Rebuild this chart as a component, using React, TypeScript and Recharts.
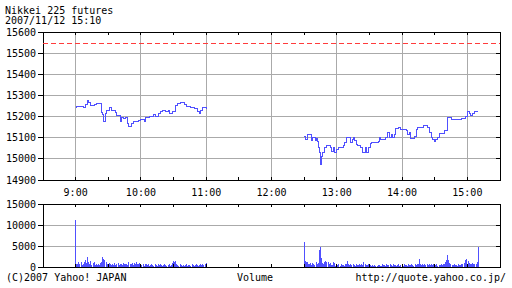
import React from 'react';
import {
  LineChart,
  Line,
  XAxis,
  YAxis,
  CartesianGrid,
  ReferenceLine,
  ReferenceArea,
  BarChart,
  Bar,
} from 'recharts';

const FONT = '"DejaVu Sans Mono", "Liberation Mono", monospace';
const BLUE = '#5050ff';
const GRID = '#aaaaaa';
const RED = '#ff3c3c';

// time axis: minutes of the day
const hourTicks = [540, 600, 660, 720, 780, 840, 900];
const hourLabels = ['9:00', '10:00', '11:00', '12:00', '13:00', '14:00', '15:00'];
const halfHourTicks = [540, 570, 600, 630, 660, 690, 720, 750, 780, 810, 840, 870, 900];
const priceTicks = [14900, 15000, 15100, 15200, 15300, 15400, 15500, 15600];
const volumeTicks = [0, 5000, 10000, 15000];
const prevClose = 15545;

const amOpen = 540; // 9:00
const pmOpen = 750; // 12:30

// morning session step points (minutes after 9:00, price)
const amMinutes = [0, 1, 7, 9, 11, 12, 14, 17, 19, 24, 25, 26, 27, 28, 30, 31, 33, 34, 37, 38, 40, 41, 42, 44, 46, 48, 49, 51, 53, 55, 58, 60, 63, 64, 68, 72, 73, 76, 78, 80, 83, 85, 86, 89, 92, 94, 96, 100, 102, 103, 106, 109, 112, 114, 115, 117, 120];
const amPrices = [15243, 15250, 15243, 15257, 15278, 15265, 15252, 15258, 15262, 15220, 15210, 15179, 15215, 15231, 15227, 15241, 15229, 15231, 15220, 15204, 15207, 15179, 15194, 15191, 15194, 15167, 15155, 15167, 15175, 15179, 15183, 15186, 15179, 15194, 15199, 15210, 15199, 15215, 15226, 15231, 15224, 15231, 15215, 15224, 15254, 15262, 15267, 15257, 15246, 15250, 15241, 15239, 15224, 15215, 15231, 15241, 15238];

// afternoon session step points (minutes after 12:30, price)
const pmMinutes = [0, 1, 3, 7, 8, 10, 11, 12, 13, 14, 15, 16, 17, 19, 21, 24, 25, 27, 28, 30, 32, 36, 37, 39, 43, 44, 45, 46, 48, 49, 52, 54, 56, 57, 59, 61, 62, 68, 69, 70, 75, 77, 78, 80, 81, 83, 84, 87, 89, 94, 95, 97, 98, 101, 103, 104, 110, 113, 115, 117, 118, 120, 121, 123, 124, 129, 130, 132, 135, 141, 145, 148, 150, 152, 153, 155, 157, 160];
const pmPrices = [15105, 15090, 15113, 15085, 15100, 15087, 15097, 15081, 15053, 15029, 14974, 15013, 15029, 15053, 15061, 15053, 15037, 15053, 15029, 15045, 15053, 15061, 15076, 15100, 15076, 15092, 15100, 15087, 15068, 15061, 15056, 15029, 15053, 15029, 15053, 15072, 15076, 15084, 15100, 15092, 15100, 15124, 15100, 15113, 15100, 15113, 15144, 15150, 15139, 15132, 15113, 15124, 15097, 15108, 15139, 15147, 15160, 15147, 15124, 15100, 15092, 15084, 15092, 15103, 15119, 15135, 15132, 15195, 15184, 15187, 15192, 15199, 15223, 15213, 15203, 15213, 15223, 15223];

// per-minute volume, morning from 9:00, afternoon from 12:30
const amVolume = [11200, 700, 600, 1100, 600, 1200, 500, 700, 1100, 1700, 900, 2500, 1300, 700, 1500, 500, 900, 1100, 500, 800, 400, 700, 400, 900, 1200, 2300, 2000, 1700, 1200, 700, 500, 900, 700, 400, 700, 500, 900, 400, 700, 1000, 500, 800, 700, 500, 900, 600, 700, 800, 500, 1300, 800, 600, 1000, 500, 900, 700, 1100, 800, 600, 1000, 300, 400, 600, 300, 800, 700, 400, 600, 300, 500, 700, 400, 300, 600, 500, 300, 700, 400, 600, 500, 300, 400, 700, 500, 300, 400, 600, 300, 500, 900, 1500, 1100, 1400, 700, 400, 300, 600, 400, 300, 500, 300, 400, 600, 300, 500, 400, 300, 600, 400, 300, 500, 600, 400, 300, 500, 700, 400, 600, 500, 700, 1000];
const pmVolume = [6000, 1500, 1200, 1300, 700, 700, 900, 500, 900, 700, 500, 1200, 700, 900, 4000, 4800, 2100, 900, 700, 1200, 1500, 1300, 1100, 700, 900, 500, 400, 1100, 900, 300, 500, 400, 600, 300, 700, 400, 500, 300, 600, 800, 1500, 700, 500, 600, 400, 700, 500, 300, 600, 400, 500, 700, 400, 600, 500, 1200, 600, 400, 500, 700, 300, 400, 200, 500, 300, 400, 200, 300, 500, 400, 300, 200, 600, 400, 500, 300, 700, 500, 400, 800, 500, 300, 600, 400, 500, 300, 400, 600, 300, 500, 400, 300, 700, 400, 500, 300, 600, 400, 500, 700, 400, 300, 600, 500, 700, 800, 2000, 700, 500, 600, 400, 700, 500, 600, 400, 800, 500, 600, 400, 700, 500, 400, 600, 300, 500, 400, 700, 500, 600, 800, 1200, 1600, 2900, 1700, 900, 600, 400, 500, 700, 400, 500, 300, 600, 400, 500, 700, 600, 1000, 1700, 2000, 800, 1500, 900, 600, 700, 1000, 600, 800, 700, 1300, 4800];

const priceData: { t: number; p: number | null }[] = [
  ...amMinutes.map((m, i) => ({ t: amOpen + m, p: amPrices[i] })),
  { t: 705, p: null },
  ...pmMinutes.map((m, i) => ({ t: pmOpen + m, p: pmPrices[i] })),
];

const volumeData = [
  ...amVolume.map((v, i) => ({ t: amOpen + i, v })),
  ...pmVolume.map((v, i) => ({ t: pmOpen + i, v })),
];

const tickStyle = { fontSize: 10, fontFamily: FONT, fill: '#000' };
const X_DOMAIN: [number, number] = [510, 930];

const fmtHour = (t: number) => hourLabels[hourTicks.indexOf(t)] ?? '';

const RedDash = (props: any) => (
  <line
    x1={props.x1}
    y1={props.y1}
    x2={props.x2}
    y2={props.y2}
    stroke={RED}
    strokeWidth={1}
    strokeDasharray="5 3"
    fill="none"
  />
);

export default function App() {
  return (
    <div
      style={{
        position: 'absolute',
        left: 0,
        top: 0,
        width: 512,
        height: 288,
        background: '#fff',
        overflow: 'hidden',
      }}
    >
      <style>{`.crisp svg { shape-rendering: crispEdges; }`}</style>
      <div className="crisp" style={{ position: 'absolute', left: 0, top: 0 }}>
        <LineChart
          width={512}
          height={202}
          data={priceData}
          margin={{ top: 32, right: 12, bottom: 2, left: 0 }}
        >
          <CartesianGrid stroke={GRID} strokeWidth={1} />
          <XAxis
            dataKey="t"
            type="number"
            domain={X_DOMAIN}
            ticks={hourTicks}
            tickFormatter={fmtHour}
            height={20}
            axisLine={false}
            tickLine={false}
            tickMargin={3}
            tick={tickStyle}
            allowDataOverflow
          />
          <YAxis
            type="number"
            domain={[14900, 15600]}
            ticks={priceTicks}
            width={43}
            axisLine={false}
            tickLine={{ stroke: '#000' }}
            tickSize={5}
            tickMargin={2}
            tick={tickStyle}
            interval={0}
            allowDataOverflow
          />
          <ReferenceLine y={prevClose} stroke={RED} shape={RedDash} />
          {halfHourTicks.map((t) => (
            <ReferenceLine
              key={'pt' + t}
              segment={[{ x: t, y: 15600 }, { x: t, y: 15586 }]}
              stroke="#000"
            />
          ))}
          {halfHourTicks.map((t) => (
            <ReferenceLine
              key={'pb' + t}
              segment={[{ x: t, y: 14900 }, { x: t, y: 14914 }]}
              stroke="#000"
            />
          ))}
          {priceTicks.map((v) => (
            <ReferenceLine
              key={'pr' + v}
              segment={[{ x: 926, y: v }, { x: 930, y: v }]}
              stroke="#000"
            />
          ))}
          <ReferenceArea
            x1={510}
            x2={930}
            y1={14900}
            y2={15600}
            fill="none"
            fillOpacity={0}
            stroke="#000"
            strokeOpacity={1}
          />
          <Line
            type="stepAfter"
            dataKey="p"
            stroke={BLUE}
            strokeWidth={1}
            dot={false}
            activeDot={false}
            connectNulls={false}
            isAnimationActive={false}
          />
        </LineChart>
      </div>
      <div className="crisp" style={{ position: 'absolute', left: 0, top: 200 }}>
        <BarChart
          width={512}
          height={88}
          data={volumeData}
          margin={{ top: 4, right: 12, bottom: 21, left: 0 }}
          barCategoryGap={0}
        >
          <CartesianGrid stroke={GRID} strokeWidth={1} />
          <XAxis
            dataKey="t"
            type="number"
            domain={X_DOMAIN}
            ticks={hourTicks}
            height={0}
            axisLine={false}
            tickLine={false}
            tick={false}
            allowDataOverflow
          />
          <YAxis
            type="number"
            domain={[0, 15000]}
            ticks={volumeTicks}
            width={43}
            axisLine={false}
            tickLine={{ stroke: '#000' }}
            tickSize={5}
            tickMargin={2}
            tick={tickStyle}
            interval={0}
            allowDataOverflow
          />
          <Bar dataKey="v" fill={BLUE} barSize={1} isAnimationActive={false} />
          {halfHourTicks.map((t) => (
            <ReferenceLine
              key={'vt' + t}
              segment={[{ x: t, y: 15000 }, { x: t, y: 14300 }]}
              stroke="#000"
            />
          ))}
          {halfHourTicks.map((t) => (
            <ReferenceLine
              key={'vb' + t}
              segment={[{ x: t, y: 0 }, { x: t, y: 700 }]}
              stroke="#000"
            />
          ))}
          {volumeTicks.map((v) => (
            <ReferenceLine
              key={'vr' + v}
              segment={[{ x: 926, y: v }, { x: 930, y: v }]}
              stroke="#000"
            />
          ))}
          <ReferenceArea
            x1={510}
            x2={930}
            y1={0}
            y2={15000}
            fill="none"
            fillOpacity={0}
            stroke="#000"
            strokeOpacity={1}
          />
        </BarChart>
      </div>
      <svg
        width={512}
        height={288}
        style={{ position: 'absolute', left: 0, top: 0, pointerEvents: 'none' }}
      >
        <g fontFamily={FONT} fontSize={10} fill="#000">
          <text x={5} y={14}>Nikkei 225 futures</text>
          <text x={5} y={24}>2007/11/12 15:10</text>
          <text x={6} y={281}>(C)2007 Yahoo! JAPAN</text>
          <text x={237} y={281}>Volume</text>
          <text x={506} y={281} textAnchor="end">http://quote.yahoo.co.jp/</text>
        </g>
      </svg>
    </div>
  );
}
